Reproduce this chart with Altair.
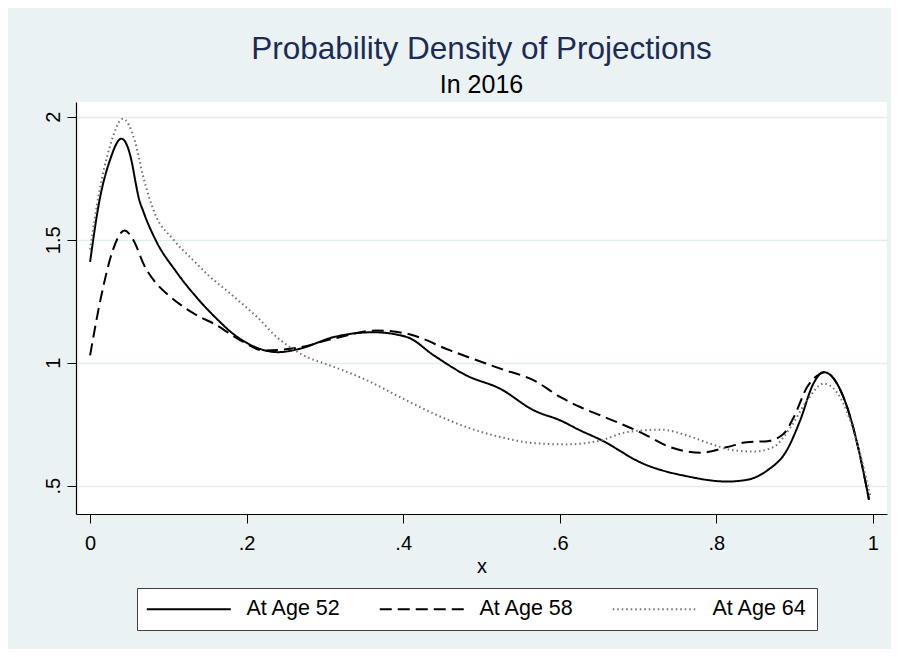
import altair as alt
import pandas as pd

# ---- data ----
series = ["At Age 52", "At Age 58", "At Age 64"]

x52 = [0.0, 0.012, 0.025, 0.040, 0.047, 0.053, 0.058, 0.062, 0.068, 0.084, 0.110, 0.137,
       0.162, 0.181, 0.210, 0.240, 0.268, 0.311, 0.362, 0.405, 0.439, 0.481, 0.524, 0.567,
       0.601, 0.626, 0.652, 0.707, 0.763, 0.814, 0.839, 0.865, 0.890, 0.907, 0.924, 0.937,
       0.950, 0.967, 0.982, 0.995]
y52 = [1.41, 1.66, 1.82, 1.911, 1.885, 1.82, 1.735, 1.672, 1.615, 1.497, 1.37, 1.262,
       1.178, 1.122, 1.065, 1.043, 1.057, 1.104, 1.124, 1.104, 1.03, 0.948, 0.894, 0.806,
       0.765, 0.725, 0.687, 0.589, 0.538, 0.517, 0.524, 0.562, 0.644, 0.765, 0.915, 0.962,
       0.935, 0.82, 0.644, 0.443]

x58 = [0.0, 0.014, 0.029, 0.044, 0.055, 0.070, 0.085, 0.100, 0.118, 0.141, 0.158, 0.192,
       0.222, 0.268, 0.311, 0.366, 0.405, 0.460, 0.524, 0.567, 0.601, 0.626, 0.652, 0.707,
       0.741, 0.780, 0.814, 0.839, 0.865, 0.886, 0.899, 0.916, 0.929, 0.940, 0.950, 0.967,
       0.982, 0.995]
y58 = [1.03, 1.267, 1.457, 1.538, 1.50, 1.39, 1.321, 1.275, 1.23, 1.185, 1.159, 1.091,
       1.05, 1.063, 1.098, 1.131, 1.118, 1.05, 0.976, 0.928, 0.86, 0.82, 0.786, 0.711,
       0.657, 0.634, 0.657, 0.677, 0.681, 0.711, 0.779, 0.901, 0.948, 0.962, 0.935, 0.82,
       0.644, 0.443]

x64 = [0.0, 0.012, 0.025, 0.042, 0.057, 0.068, 0.082, 0.1065, 0.132, 0.153, 0.175, 0.196,
       0.213, 0.2386, 0.2556, 0.277, 0.302, 0.354, 0.396, 0.439, 0.481, 0.524, 0.567, 0.609,
       0.652, 0.686, 0.729, 0.763, 0.792, 0.822, 0.848, 0.873, 0.895, 0.916, 0.937, 0.954,
       0.971, 0.997]
y64 = [1.46, 1.70, 1.876, 1.992, 1.904, 1.755, 1.612, 1.50, 1.416, 1.350, 1.292, 1.235,
       1.187, 1.104, 1.063, 1.023, 0.994, 0.928, 0.86, 0.793, 0.738, 0.698, 0.673, 0.668,
       0.684, 0.718, 0.728, 0.704, 0.671, 0.644, 0.639, 0.657, 0.738, 0.847, 0.915, 0.88,
       0.765, 0.454]

x_ticks = [0, 0.2, 0.4, 0.6, 0.8, 1]
y_ticks = [0.5, 1, 1.5, 2]

rows = []
for name, xs, ys in zip(series, [x52, x58, x64], [y52, y58, y64]):
    for i, (a, b) in enumerate(zip(xs, ys)):
        rows.append({"series": name, "x": a, "density": b, "order": i})
df = pd.DataFrame(rows)

FONT = "Liberation Sans"
label_expr = "replace(format(datum.value, '~g'), '0.', '.')"

legend = alt.Legend(
    title=None,
    orient="none",
    legendX=61,
    legendY=486,
    direction="horizontal",
    columns=3,
    fillColor="white",
    strokeColor="#404040",
    padding=10,
    symbolType="M-8.4,0H8.4",
    symbolSize=100,
    symbolStrokeWidth=2,
    symbolOffset=31,
    labelOffset=47,
    labelFontSize=21.5,
    labelFont=FONT,
    labelColor="black",
    columnPadding=34,
    cornerRadius=0,
)

chart = alt.Chart(df).mark_line(interpolate="monotone", strokeWidth=2).encode(
    x=alt.X("x:Q",
            scale=alt.Scale(domain=[-0.018, 1.018], nice=False, zero=False),
            axis=alt.Axis(values=x_ticks, labelExpr=label_expr, title="x", grid=False,
                          labelPadding=10, titlePadding=3)),
    y=alt.Y("density:Q",
            scale=alt.Scale(domain=[0.385, 2.06], nice=False, zero=False),
            axis=alt.Axis(values=y_ticks, labelExpr=label_expr, title=None, grid=True,
                          labelAngle=270, labelAlign="center", labelBaseline="alphabetic",
                          labelPadding=8)),
    color=alt.Color("series:N",
                    scale=alt.Scale(domain=series, range=["#000000", "#000000", "#707070"]),
                    legend=legend),
    strokeDash=alt.StrokeDash("series:N",
                              scale=alt.Scale(domain=series, range=[[1, 0], [12, 6], [1.5, 3]]),
                              legend=legend),
    order="order:Q",
).properties(
    width=811,
    height=412,
    autosize=alt.AutoSizeParams(type="none"),
    padding={"left": 68, "top": 94, "right": 4, "bottom": 135},
    background="#EAF2F3",
    title=alt.TitleParams(
        text="Probability Density of Projections",
        subtitle="In 2016",
        font=FONT,
        subtitleFont=FONT,
        fontSize=31.5,
        subtitleFontSize=25,
        fontWeight="normal",
        color="#1c2b55",
        subtitleColor="black",
        anchor="middle",
        frame="group",
        offset=4,
        subtitlePadding=8,
    ),
).configure_view(
    fill="white",
    strokeWidth=0,
).configure_axis(
    labelFont=FONT,
    titleFont=FONT,
    labelFontSize=20,
    titleFontSize=20,
    titleFontWeight="normal",
    labelColor="black",
    titleColor="black",
    domainColor="black",
    domainWidth=1.2,
    tickColor="black",
    tickSize=9,
    tickWidth=1,
    gridColor="#E3ECEF",
    gridWidth=1.5,
)

chart.save("out.html", embed_options={"renderer": "svg", "actions": False})
